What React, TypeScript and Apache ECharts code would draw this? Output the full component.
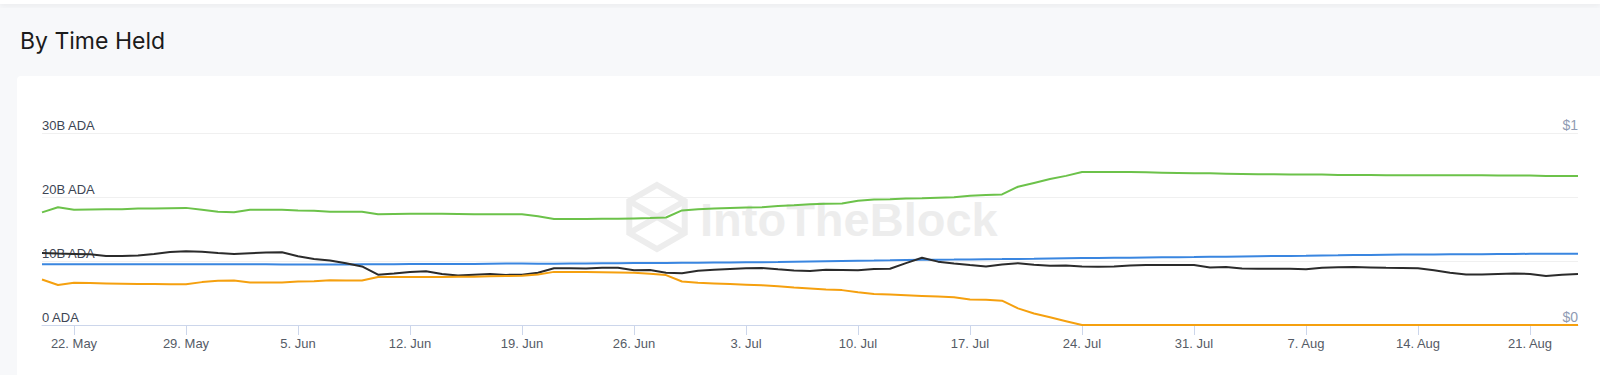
import React, { useEffect, useRef } from "react";
import * as echarts from "echarts";

const START_DATE = Date.UTC(2023, 4, 20);
const DAY_COUNT = 97;
const MONTHS = ["Jan", "Feb", "Mar", "Apr", "May", "Jun", "Jul", "Aug", "Sep", "Oct", "Nov", "Dec"];
const categories: string[] = Array.from({ length: DAY_COUNT }, (_, i) => {
  const d = new Date(START_DATE + i * 86400000);
  return `${d.getUTCDate()}. ${MONTHS[d.getUTCMonth()]}`;
});

const TICK_LABELS = [
  "22. May", "29. May", "5. Jun", "12. Jun", "19. Jun", "26. Jun", "3. Jul",
  "10. Jul", "17. Jul", "24. Jul", "31. Jul", "7. Aug", "14. Aug", "21. Aug",
];

// Billions of ADA
const hodlers = [
  17.6, 18.4, 18.0, 18.05, 18.1, 18.1, 18.2, 18.2, 18.25, 18.3,
  18.0, 17.7, 17.6, 18.0, 18.0, 18.0, 17.9, 17.85, 17.7, 17.7,
  17.7, 17.3, 17.35, 17.4, 17.4, 17.4, 17.35, 17.3, 17.3, 17.3,
  17.3, 17.0, 16.55, 16.55, 16.56, 16.6, 16.6, 16.65, 16.7, 16.8,
  17.9, 18.1, 18.2, 18.3, 18.35, 18.4, 18.6, 18.7, 18.85, 18.95,
  19.0, 19.4, 19.6, 19.65, 19.75, 19.8, 19.9, 19.95, 20.2, 20.3,
  20.4, 21.6, 22.2, 22.8, 23.3, 23.9, 23.9, 23.9, 23.9, 23.85,
  23.8, 23.75, 23.7, 23.7, 23.65, 23.6, 23.55, 23.55, 23.5, 23.5,
  23.5, 23.45, 23.45, 23.45, 23.4, 23.4, 23.4, 23.4, 23.4, 23.4,
  23.4, 23.35, 23.35, 23.35, 23.3, 23.3, 23.3,
];

const cruisers = [
  9.5, 9.5, 9.5, 9.5, 9.5, 9.5, 9.5, 9.5, 9.5, 9.5,
  9.5, 9.5, 9.48, 9.48, 9.48, 9.47, 9.47, 9.47, 9.46, 9.46,
  9.48, 9.5, 9.5, 9.52, 9.52, 9.53, 9.55, 9.55, 9.58, 9.6,
  9.62, 9.58, 9.58, 9.6, 9.62, 9.64, 9.66, 9.68, 9.7, 9.7,
  9.72, 9.74, 9.76, 9.78, 9.8, 9.82, 9.84, 9.88, 9.92, 9.96,
  10.0, 10.03, 10.06, 10.1, 10.15, 10.18, 10.2, 10.22, 10.25, 10.28,
  10.3, 10.33, 10.36, 10.4, 10.43, 10.46, 10.48, 10.5, 10.52, 10.55,
  10.58, 10.6, 10.62, 10.65, 10.68, 10.72, 10.75, 10.78, 10.8, 10.82,
  10.85, 10.88, 10.92, 10.95, 10.98, 11.0, 11.02, 11.03, 11.04, 11.05,
  11.07, 11.09, 11.1, 11.12, 11.13, 11.14, 11.15,
];

const traders = [
  7.1, 6.25, 6.6, 6.55, 6.5, 6.45, 6.4, 6.4, 6.35, 6.35,
  6.7, 6.9, 6.95, 6.65, 6.65, 6.65, 6.8, 6.85, 7.0, 6.95,
  6.95, 7.5, 7.5, 7.5, 7.5, 7.5, 7.55, 7.55, 7.6, 7.65,
  7.7, 7.9, 8.3, 8.3, 8.3, 8.25, 8.2, 8.15, 8.0, 7.8,
  6.8, 6.6, 6.5, 6.4, 6.3, 6.2, 6.05, 5.85, 5.7, 5.55,
  5.45, 5.1, 4.85, 4.75, 4.65, 4.55, 4.45, 4.35, 4.0, 3.95,
  3.8, 2.6, 1.8, 1.2, 0.6, 0, 0, 0, 0, 0,
  0, 0, 0, 0, 0, 0, 0, 0, 0, 0,
  0, 0, 0, 0, 0, 0, 0, 0, 0, 0,
  0, 0, 0, 0, 0, 0, 0,
];

// USD
const price = [
  0.375, 0.372, 0.37, 0.368, 0.36, 0.36, 0.362, 0.37, 0.38, 0.384,
  0.382, 0.375, 0.37, 0.374, 0.377, 0.379, 0.358, 0.344, 0.336, 0.322,
  0.305, 0.262, 0.268, 0.276, 0.28, 0.266, 0.258, 0.262, 0.266, 0.261,
  0.262, 0.272, 0.296, 0.296, 0.294, 0.298, 0.298, 0.285, 0.286, 0.272,
  0.27, 0.283, 0.288, 0.292, 0.295, 0.297, 0.29, 0.284, 0.281, 0.288,
  0.287, 0.285, 0.292, 0.293, 0.322, 0.35, 0.33, 0.32, 0.312, 0.305,
  0.315, 0.322, 0.314, 0.308, 0.31, 0.305, 0.303, 0.305, 0.31, 0.312,
  0.312, 0.312, 0.312, 0.3, 0.302, 0.294, 0.293, 0.293, 0.293, 0.29,
  0.298, 0.301, 0.302, 0.3, 0.298, 0.297, 0.296, 0.285, 0.272, 0.263,
  0.263, 0.266, 0.268, 0.266, 0.255, 0.262, 0.265,
];

const FONT = "'Liberation Sans', Arial, sans-serif";

export default function App() {
  const ref = useRef<HTMLDivElement>(null);
  useEffect(() => {
    document.body.style.margin = "0";
    if (!ref.current) return;
    const chart = echarts.init(ref.current, null, { renderer: "svg" });
    const isTick = (_i: number, v: string) => TICK_LABELS.includes(v);
    const hx = 657, hy = 217, hr = 32;
    const hex: number[][] = [];
    for (let k = 0; k < 6; k++) {
      const a = (-90 + 60 * k) * Math.PI / 180;
      hex.push([hx + hr * Math.cos(a), hy + hr * Math.sin(a)]);
    }
    const wm = "#ededed";
    chart.setOption({
      animation: false,
      backgroundColor: "#f7f8fa",
      title: {
        text: "By Time Held",
        left: 15,
        top: 24,
        textStyle: { fontSize: 23, fontWeight: "normal", color: "#1b1b1b", fontFamily: "Inter, sans-serif" },
      },
      graphic: [
        { type: "rect", z: -100, shape: { x: 0, y: 0, width: 1600, height: 4 }, style: { fill: "#ffffff", shadowBlur: 6, shadowColor: "rgba(0,0,0,0.08)", shadowOffsetY: 1 } },
        { type: "rect", z: -100, shape: { x: 17, y: 76, width: 1600, height: 400, r: 4 }, style: { fill: "#ffffff" } },
        { type: "polygon", z: 1, shape: { points: hex }, style: { fill: "none", stroke: wm, lineWidth: 6 } },
        { type: "polyline", z: 1, shape: { points: [hex[5], [hx, hy], hex[1]] }, style: { fill: "none", stroke: wm, lineWidth: 6 } },
        { type: "polyline", z: 1, shape: { points: [hex[4], [hx, hy], hex[2]] }, style: { fill: "none", stroke: wm, lineWidth: 6 } },
        { type: "text", z: 1, x: 700, y: 219, style: { text: "IntoTheBlock", fill: wm, font: `bold 47px ${FONT}`, verticalAlign: "middle", align: "left" } },
      ],
      grid: { left: 42, right: 22, top: 133, bottom: 50, containLabel: false },
      xAxis: {
        type: "category",
        data: categories,
        boundaryGap: false,
        axisLine: { lineStyle: { color: "#ccd6eb", width: 1 } },
        axisTick: { show: true, length: 10, interval: isTick, lineStyle: { color: "#ccd6eb" } },
        axisLabel: { interval: isTick, color: "#555b66", fontSize: 13, fontFamily: FONT, margin: 12 },
        splitLine: { show: false },
      },
      yAxis: [
        {
          type: "value",
          min: 0,
          max: 30,
          interval: 10,
          axisLine: { show: false },
          axisTick: { show: false },
          splitLine: { lineStyle: { color: "#f0f0f0", width: 1 } },
          axisLabel: {
            inside: true,
            margin: 0,
            verticalAlign: "bottom",
            padding: [0, 0, 1, 0],
            color: "#3d4554",
            fontSize: 13,
            fontFamily: FONT,
            formatter: (v: number) => (v === 0 ? "0 ADA" : `${v}B ADA`),
          },
        },
        {
          type: "value",
          min: 0,
          max: 1,
          interval: 1,
          position: "right",
          axisLine: { show: false },
          axisTick: { show: false },
          splitLine: { show: false },
          axisLabel: {
            inside: true,
            margin: 0,
            verticalAlign: "bottom",
            padding: [0, 0, 1, 0],
            color: "#8f9bb3",
            fontSize: 14,
            fontFamily: FONT,
            formatter: (v: number) => `$${v}`,
          },
        },
      ],
      series: [
        { name: "Hodlers", type: "line", data: hodlers, yAxisIndex: 0, showSymbol: false, lineStyle: { color: "#6cc24a", width: 2 }, itemStyle: { color: "#6cc24a" } },
        { name: "Cruisers", type: "line", data: cruisers, yAxisIndex: 0, showSymbol: false, lineStyle: { color: "#3a86e0", width: 2 }, itemStyle: { color: "#3a86e0" } },
        { name: "Price", type: "line", data: price, yAxisIndex: 1, showSymbol: false, lineStyle: { color: "#2b2b2b", width: 2 }, itemStyle: { color: "#2b2b2b" } },
        { name: "Traders", type: "line", data: traders, yAxisIndex: 0, showSymbol: false, lineStyle: { color: "#f5a00f", width: 2 }, itemStyle: { color: "#f5a00f" } },
      ],
    });
    return () => chart.dispose();
  }, []);
  return <div ref={ref} style={{ width: 1600, height: 375 }} />;
}
